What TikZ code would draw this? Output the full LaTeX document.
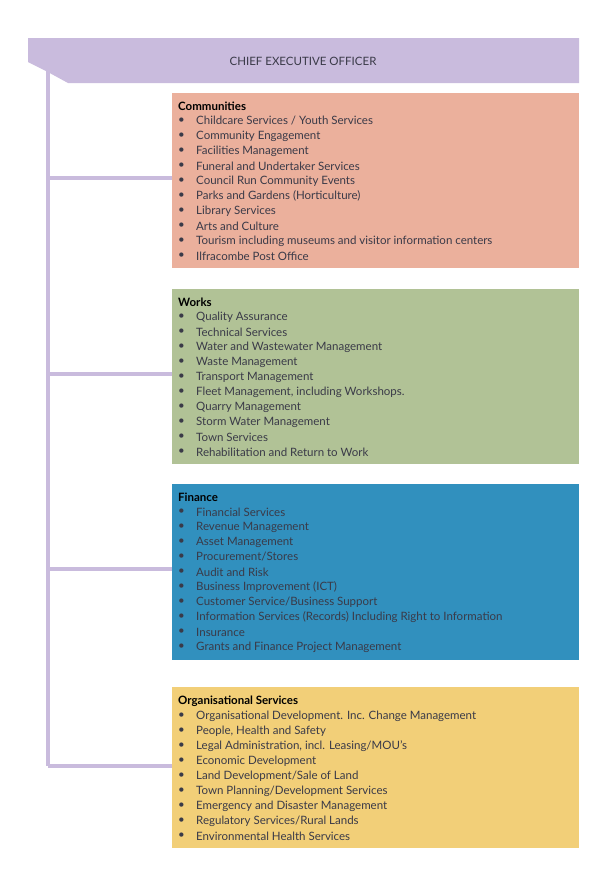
\documentclass[tikz,border=0pt]{standalone}
\usepackage{fontspec}
\setmainfont{Lato}
\definecolor{hdr}{HTML}{C9BBDD}
\definecolor{comm}{HTML}{EBB09C}
\definecolor{works}{HTML}{B1C296}
\definecolor{fin}{HTML}{3190BE}
\definecolor{org}{HTML}{F2CF78}
\definecolor{txt}{HTML}{3A3A48}
\begin{document}
\begin{tikzpicture}[x=1pt,y=-1pt,
  boxttl/.style={anchor=west,font=\fontsize{11.5}{13}\selectfont\bfseries,text=black,inner sep=0},
  itm/.style={anchor=west,font=\fontsize{11.5}{13}\selectfont,text=txt,inner sep=0},
  branch/.style={draw=hdr,line width=4pt}]
\useasboundingbox (0,0) rectangle (607,886);
\fill[hdr] (28,38) -- (579,38) -- (579,83) -- (68,83) -- (46,71) -- (28,62) -- cycle;
\node[font=\fontsize{11.5}{13}\selectfont,text=txt] (ceo) at (303,61) {CHIEF EXECUTIVE OFFICER};
\coordinate (top) at (48,71);
\coordinate (bot) at (48,766);
\draw[branch] (top) -- (bot);
\newcommand{\deptbox}[6]{%
  \fill[#2] (172,#3) rectangle (579,#4);
  \node[boxttl] (#1) at (178,#3+13) {#5};
  \coordinate (#1b) at (48,#3+85);
  \coordinate (#1e) at (172,#3+85);
  \draw[branch] (#1b) -- (#1e);
  \foreach \t [count=\i] in {#6}{
    \node[itm] at (178,#3+13+15*\i) {•};
    \node[itm] at (196,#3+13+15*\i) {\t};
  }}
\deptbox{c}{comm}{93}{268}{Communities}{Childcare Services / Youth Services,Community Engagement,Facilities Management,Funeral and Undertaker Services,Council Run Community Events,Parks and Gardens (Horticulture),Library Services,Arts and Culture,Tourism including museums and visitor information centers,Ilfracombe Post Office}
\deptbox{w}{works}{289}{464}{Works}{Quality Assurance,Technical Services,Water and Wastewater Management,Waste Management,Transport Management,{Fleet Management, including Workshops.},Quarry Management,Storm Water Management,Town Services,Rehabilitation and Return to Work}
\deptbox{f}{fin}{484}{660}{Finance}{Financial Services,Revenue Management,Asset Management,Procurement/Stores,Audit and Risk,Business Improvement (ICT),Customer Service/Business Support,Information Services (Records) Including Right to Information,Insurance,Grants and Finance Project Management}
\fill[org] (172,687) rectangle (579,848);
\node[boxttl] (o) at (178,701) {Organisational Services};
\draw[branch] (48,766) -- (172,766);
\foreach \t [count=\i] in {Organisational Development. Inc. Change Management,{People, Health and Safety},{Legal Administration, incl. Leasing/MOU’s},Economic Development,Land Development/Sale of Land,Town Planning/Development Services,Emergency and Disaster Management,Regulatory Services/Rural Lands,Environmental Health Services}{
  \node[itm] at (178,701+15*\i) {•};
  \node[itm] at (196,701+15*\i) {\t};
}
\end{tikzpicture}
\end{document}
